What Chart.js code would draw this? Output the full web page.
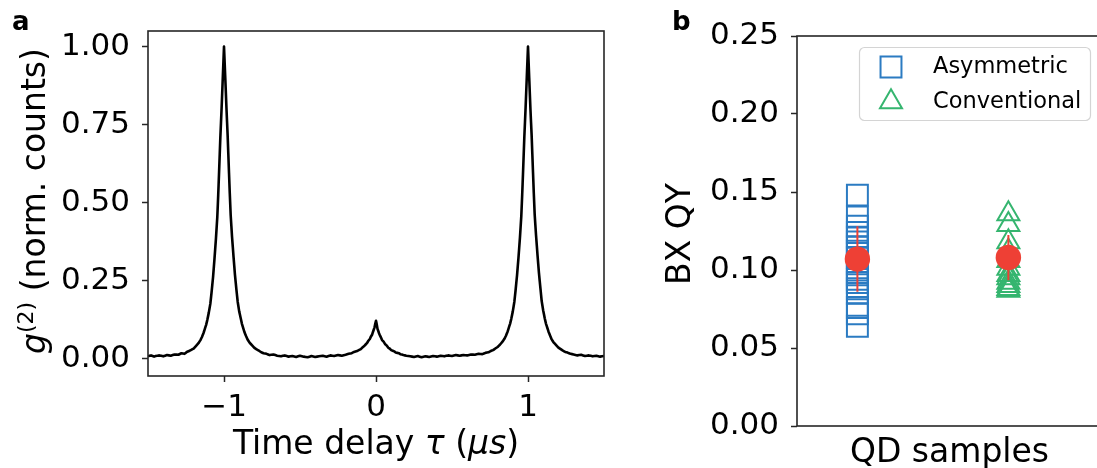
<!DOCTYPE html>
<html>
<head>
<meta charset="utf-8">
<script src="https://cdn.jsdelivr.net/npm/chart.js@4.4.0/dist/chart.umd.min.js"></script>
<style>
  html, body { margin: 0; padding: 0; background: #fff; overflow: hidden; width: 1097px; height: 468px; }
  #chartA { position: absolute; left: 0; top: 0; }
  #chartB { position: absolute; left: 640px; top: 0; }
</style>
</head>
<body>
<canvas id="chartA" width="640" height="468"></canvas>
<canvas id="chartB" width="480" height="468"></canvas>
<script>
// ---- panel a: g2 trace ----
const tau = [
  -1.50, -1.48, -1.46,
  -1.45, -1.425, -1.40, -1.375, -1.35, -1.325, -1.30, -1.28, -1.26, -1.245, -1.23, -1.215, -1.20, -1.185, -1.168, -1.155,
  -1.145, -1.135, -1.128, -1.118, -1.11, -1.10, -1.09, -1.082, -1.072, -1.063, -1.053, -1.044, -1.038, -1.033, -1.024, -1.016, -1.008,
  -1.0,
  -0.992, -0.984, -0.976, -0.967, -0.962, -0.956, -0.947, -0.937, -0.928, -0.918, -0.91, -0.90, -0.89, -0.882, -0.872, -0.865,
  -0.855, -0.845, -0.832, -0.815, -0.80, -0.785, -0.77, -0.755, -0.74, -0.72, -0.70, -0.675, -0.65, -0.625, -0.60, -0.575,
  -0.55, -0.525, -0.50, -0.475, -0.45, -0.425, -0.40, -0.375, -0.35, -0.325, -0.30, -0.275, -0.25, -0.225,
  -0.20, -0.18, -0.16, -0.15, -0.13, -0.12, -0.10, -0.09, -0.08, -0.07, -0.06, -0.05, -0.04, -0.035, -0.025, -0.02, -0.01, -0.005,
  0,
  0.005, 0.01, 0.02, 0.025, 0.035, 0.04, 0.05, 0.06, 0.07, 0.08, 0.09, 0.10, 0.12, 0.13, 0.15, 0.16, 0.18, 0.20,
  0.225, 0.25, 0.275, 0.30, 0.325, 0.35, 0.375, 0.40, 0.425, 0.45, 0.475, 0.50, 0.525, 0.55,
  0.575, 0.60, 0.625, 0.65, 0.675, 0.70, 0.72, 0.74, 0.755, 0.77, 0.785, 0.80, 0.815, 0.832, 0.845, 0.855,
  0.865, 0.872, 0.882, 0.89, 0.90, 0.91, 0.918, 0.928, 0.937, 0.947, 0.956, 0.962, 0.967, 0.976, 0.984, 0.992,
  1.0,
  1.008, 1.016, 1.024, 1.033, 1.038, 1.044, 1.053, 1.063, 1.072, 1.082, 1.09, 1.10, 1.11, 1.118, 1.128, 1.135, 1.145, 1.155,
  1.168, 1.185, 1.20, 1.215, 1.23, 1.245, 1.26, 1.28, 1.30, 1.325, 1.35, 1.375, 1.40, 1.425, 1.45, 1.475, 1.50
];
const g2 = [
  0.008, 0.011, 0.007,
  0.009, 0.011, 0.008, 0.012, 0.010, 0.014, 0.013, 0.018, 0.016, 0.022, 0.025, 0.029, 0.033, 0.041, 0.050, 0.060,
  0.070, 0.082, 0.093, 0.108, 0.124, 0.148, 0.176, 0.212, 0.262, 0.318, 0.385, 0.455, 0.525, 0.590, 0.710, 0.800, 0.900,
  1.0,
  0.905, 0.805, 0.715, 0.595, 0.530, 0.460, 0.390, 0.325, 0.270, 0.220, 0.183, 0.152, 0.130, 0.112, 0.096, 0.085,
  0.073, 0.062, 0.052, 0.043, 0.035, 0.030, 0.026, 0.021, 0.018, 0.016, 0.012, 0.014, 0.010, 0.008, 0.011, 0.007,
  0.009, 0.006, 0.010, 0.007, 0.005, 0.009, 0.006, 0.008, 0.010, 0.007, 0.011, 0.009, 0.012, 0.010,
  0.013, 0.016, 0.018, 0.021, 0.024, 0.026, 0.031, 0.036, 0.040, 0.045, 0.050, 0.058, 0.064, 0.070, 0.078, 0.086, 0.100, 0.112,
  0.122,
  0.110, 0.096, 0.082, 0.076, 0.066, 0.060, 0.055, 0.047, 0.043, 0.036, 0.033, 0.028, 0.024, 0.020, 0.018, 0.015, 0.012, 0.010,
  0.008, 0.006, 0.009, 0.005, 0.008, 0.006, 0.009, 0.007, 0.010, 0.008, 0.011, 0.009, 0.012, 0.010,
  0.012, 0.011, 0.014, 0.013, 0.016, 0.015, 0.019, 0.021, 0.025, 0.028, 0.033, 0.038, 0.045, 0.055, 0.064, 0.074,
  0.086, 0.097, 0.112, 0.128, 0.152, 0.182, 0.218, 0.268, 0.322, 0.388, 0.458, 0.528, 0.592, 0.712, 0.802, 0.902,
  1.0,
  0.900, 0.800, 0.715, 0.597, 0.532, 0.462, 0.395, 0.330, 0.275, 0.225, 0.185, 0.155, 0.130, 0.113, 0.098, 0.087, 0.075, 0.063,
  0.053, 0.044, 0.036, 0.031, 0.026, 0.022, 0.020, 0.016, 0.014, 0.011, 0.013, 0.009, 0.011, 0.008, 0.010, 0.007, 0.009
];
const xTicksA      = [-1, 0, 1];
const xTickLabelsA = ["\u22121", "0", "1"];
const yTicksA      = [0, 0.25, 0.5, 0.75, 1.0];

// ---- panel b: BX QY per sample ----
const categories     = ["Asymmetric", "Conventional"];
const asymmetricQY   = [0.148, 0.134, 0.128, 0.124, 0.121, 0.118, 0.115, 0.112, 0.108, 0.104,
                        0.100, 0.097, 0.094, 0.092, 0.088, 0.085, 0.076, 0.072, 0.064];
const conventionalQY = [0.136, 0.129, 0.118, 0.112, 0.106, 0.101, 0.097, 0.095, 0.092, 0.090, 0.088, 0.087];
const meanQY         = [0.107, 0.108];
const stdQY          = [0.021, 0.0145];
const yTicksB        = [0, 0.05, 0.10, 0.15, 0.20, 0.25];

const FONT   = "DejaVu Sans";
const SPINE  = "#262626";
const BLUE   = "#2b7bc2";
const GREEN  = "#35b56f";
const RED    = "#ee4035";

// text with mixed fonts (mathtext-like), centred on (x, y) baseline
function drawRich(ctx, parts, x, y, angle) {
  ctx.save();
  ctx.translate(x, y);
  ctx.rotate(angle);
  let total = 0;
  parts.forEach(p => { ctx.font = p.font; p.w = ctx.measureText(p.text).width; total += p.w; });
  let cx = -total / 2;
  ctx.textAlign = "left";
  ctx.textBaseline = "alphabetic";
  ctx.fillStyle = "#000";
  parts.forEach(p => { ctx.font = p.font; ctx.fillText(p.text, cx, -(p.rise || 0)); cx += p.w; });
  ctx.restore();
}

const spinesPlugin = {
  id: "spines",
  afterDatasetsDraw(chart) {
    const { ctx, chartArea: a } = chart;
    ctx.save();
    ctx.strokeStyle = SPINE;
    ctx.lineWidth = 1.6;
    ctx.strokeRect(a.left, a.top, a.right - a.left, a.bottom - a.top);
    ctx.restore();
  }
};

const labelsA = {
  id: "labelsA",
  afterDraw(chart) {
    const ctx = chart.ctx;
    ctx.save();
    ctx.font = `bold 26px ${FONT}`;
    ctx.fillStyle = "#000";
    ctx.textAlign = "left";
    ctx.textBaseline = "alphabetic";
    ctx.fillText("a", 12, 30);
    ctx.restore();
    drawRich(ctx, [
      { text: "g", font: `italic 33px ${FONT}` },
      { text: "(2)", font: `22px ${FONT}`, rise: 12 },
      { text: " (norm. counts)", font: `33px ${FONT}` }
    ], 45, 201, -Math.PI / 2);
    drawRich(ctx, [
      { text: "Time delay ", font: `33px ${FONT}` },
      { text: "\u03c4", font: `italic 33px ${FONT}` },
      { text: " (", font: `33px ${FONT}` },
      { text: "\u03bcs", font: `italic 33px ${FONT}` },
      { text: ")", font: `33px ${FONT}` }
    ], 376, 454, 0);
  }
};

new Chart(document.getElementById("chartA"), {
  type: "line",
  data: {
    datasets: [{
      data: tau.map((t, i) => ({ x: t, y: g2[i] })),
      borderColor: "#000",
      borderWidth: 2.6,
      borderJoinStyle: "round",
      pointRadius: 0,
      tension: 0.001   // avoids the fast-path pixel binning on the steep flanks
    }]
  },
  options: {
    responsive: false,
    devicePixelRatio: 1,
    animation: false,
    layout: { padding: { top: 31, right: 36, left: 0, bottom: 0 } },
    plugins: { legend: { display: false }, tooltip: { enabled: false } },
    scales: {
      x: {
        type: "linear", min: -1.5, max: 1.5,
        afterFit: s => { s.height = 92; },
        afterBuildTicks: s => { s.ticks = xTicksA.map(v => ({ value: v })); },
        ticks: {
          callback: (v, i) => xTickLabelsA[i],
          font: { family: FONT, size: 31 }, color: "#000", padding: 7,
          maxRotation: 0, autoSkip: false
        },
        grid: { drawOnChartArea: false, drawTicks: true, tickLength: 6, tickWidth: 1.5, tickColor: SPINE },
        border: { display: false }
      },
      y: {
        type: "linear", min: -0.055, max: 1.05,
        afterFit: s => { s.width = 148; },
        afterBuildTicks: s => { s.ticks = yTicksA.map(v => ({ value: v })); },
        ticks: {
          callback: v => v.toFixed(2),
          font: { family: FONT, size: 31 }, color: "#000", padding: 12
        },
        grid: { drawOnChartArea: false, drawTicks: true, tickLength: 6, tickWidth: 1.5, tickColor: SPINE },
        border: { display: false }
      }
    }
  },
  plugins: [spinesPlugin, labelsA]
});

// ---- panel b ----
const labelsB = {
  id: "labelsB",
  afterDraw(chart) {
    const ctx = chart.ctx;
    ctx.save();
    ctx.font = `bold 26px ${FONT}`;
    ctx.fillStyle = "#000";
    ctx.textBaseline = "alphabetic";
    ctx.fillText("b", 32, 30);
    ctx.restore();
    drawRich(ctx, [{ text: "BX QY", font: `33px ${FONT}` }], 50, 234, -Math.PI / 2);
    const a = chart.chartArea;
    drawRich(ctx, [{ text: "QD samples", font: `33px ${FONT}` }], (a.left + a.right) / 2, 462, 0);

    // legend box
    ctx.save();
    ctx.beginPath();
    ctx.roundRect(219.5, 47.5, 231, 73, 5);
    ctx.fillStyle = "rgba(255,255,255,0.8)";
    ctx.fill();
    ctx.strokeStyle = "#d4d4d4";
    ctx.lineWidth = 1.2;
    ctx.stroke();
    const rows = [chart.data.datasets[2], chart.data.datasets[3]];
    const ys = [67, 102];
    rows.forEach((ds, i) => {
      ctx.strokeStyle = ds.borderColor;
      ctx.fillStyle = "rgba(0,0,0,0)";
      ctx.lineWidth = ds.borderWidth;
      Chart.helpers.drawPoint(ctx, { pointStyle: ds.pointStyle, radius: ds.pointRadius, borderWidth: ds.borderWidth, rotation: 0 }, 251, ys[i]);
      ctx.fillStyle = "#000";
      ctx.font = `22.5px ${FONT}`;
      ctx.textAlign = "left";
      ctx.textBaseline = "middle";
      ctx.fillText(ds.label, 293, ys[i]);
    });
    ctx.restore();
  }
};

new Chart(document.getElementById("chartB"), {
  type: "scatter",
  data: {
    datasets: [
      {
        label: "mean",
        type: "scatter",
        data: categories.map((c, i) => ({ x: i, y: meanQY[i] })),
        pointStyle: "circle",
        pointRadius: 12.7,
        backgroundColor: RED,
        borderWidth: 0,
        order: 0
      },
      {
        label: "std",
        type: "line",
        data: [
          { x: 0, y: meanQY[0] - stdQY[0] }, { x: 0, y: meanQY[0] + stdQY[0] },
          { x: 0.5, y: null },
          { x: 1, y: meanQY[1] - stdQY[1] }, { x: 1, y: meanQY[1] + stdQY[1] }
        ],
        borderColor: RED,
        borderWidth: 2,
        pointRadius: 0,
        spanGaps: false,
        showLine: true,
        order: 1
      },
      {
        label: categories[0],
        type: "scatter",
        data: asymmetricQY.map(v => ({ x: 0, y: v })),
        pointStyle: "rect",
        pointRadius: 14.8,
        borderColor: BLUE,
        backgroundColor: "rgba(0,0,0,0)",
        borderWidth: 2,
        order: 2
      },
      {
        label: categories[1],
        type: "scatter",
        data: conventionalQY.map(v => ({ x: 1, y: v })),
        pointStyle: "triangle",
        pointRadius: 12.7,
        borderColor: GREEN,
        backgroundColor: "rgba(0,0,0,0)",
        borderWidth: 2,
        order: 3
      }
    ]
  },
  options: {
    responsive: false,
    devicePixelRatio: 1,
    animation: false,
    layout: { padding: { top: 36, right: 18, left: 0, bottom: 0 } },
    plugins: { legend: { display: false }, tooltip: { enabled: false } },
    scales: {
      x: {
        type: "linear", min: -0.4, max: 1.62,
        afterFit: s => { s.height = 42; },
        ticks: { display: false },
        grid: { display: false },
        border: { display: false }
      },
      y: {
        type: "linear", min: 0, max: 0.25,
        afterFit: s => { s.width = 157; },
        afterBuildTicks: s => { s.ticks = yTicksB.map(v => ({ value: v })); },
        ticks: {
          callback: v => v.toFixed(2),
          font: { family: FONT, size: 31 }, color: "#000", padding: 12
        },
        grid: { drawOnChartArea: false, drawTicks: true, tickLength: 6, tickWidth: 1.5, tickColor: SPINE },
        border: { display: false }
      }
    }
  },
  plugins: [spinesPlugin, labelsB]
});
</script>
</body>
</html>
